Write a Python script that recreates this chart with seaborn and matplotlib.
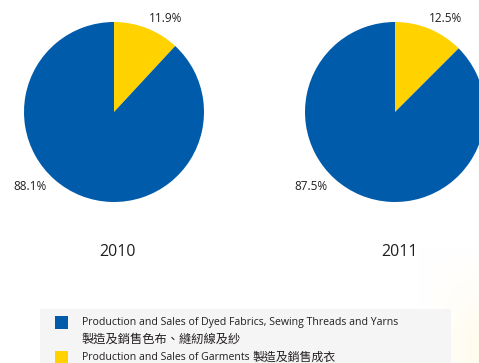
import numpy as np
import seaborn as sns
import matplotlib.pyplot as plt
from matplotlib.patches import Rectangle

# data
years = ['2010', '2011']
garments = [11.9, 12.5]
fabrics = [88.1, 87.5]
legend_en = ['Production and Sales of Dyed Fabrics, Sewing Threads and Yarns',
             'Production and Sales of Garments']
legend_zh = ['製造及銷售色布、縫紉線及紗', '製造及銷售成衣']

colors = ['#FFD200', '#005BAA']
text_color = '#231F20'

sns.set_theme(style='white')
plt.rcParams['font.family'] = ['Open Sans', 'Noto Sans CJK TC', 'DejaVu Sans']

W, H = 479, 363
fig = plt.figure(figsize=(W / 100, H / 100), dpi=100)
fig.patch.set_facecolor('white')

# faint cream glow in the lower right corner
bg = fig.add_axes([0, 0, 1, 1], zorder=-10)
gx, gy = np.meshgrid(np.linspace(0, W, 200), np.linspace(0, H, 160))
d = np.clip((gx - 420) / 60, 0, 1) * np.clip((gy - 250) / 90, 0, 1)
img = np.ones((160, 200, 3))
img[..., 2] -= 0.07 * d
img[..., 1] -= 0.015 * d
bg.imshow(img, extent=[0, W, H, 0], aspect='auto')
bg.axis('off')

centers = [(114, 112), (395, 112)]
radius = 90
small_pos = [(166, 19), (446, 19)]
big_pos = [(30, 187), (311, 187)]
year_pos = [(118, 252), (399, 252)]


def px_axes(cx, cy, r):
    return fig.add_axes([(cx - r) / W, (H - cy - r) / H, 2 * r / W, 2 * r / H])


for i, year in enumerate(years):
    cx, cy = centers[i]
    ax = px_axes(cx, cy, radius)
    ax.pie([garments[i], fabrics[i]], colors=colors, startangle=90, counterclock=False,
           radius=1, wedgeprops=dict(linewidth=0))
    ax.set_xlim(-1, 1)
    ax.set_ylim(-1, 1)
    ax.axis('off')

    sx, sy = small_pos[i]
    fig.text(sx / W, 1 - sy / H, f'{garments[i]:.1f}%', ha='center', va='center',
             fontsize=8.5, color=text_color)
    bx, by = big_pos[i]
    fig.text(bx / W, 1 - by / H, f'{fabrics[i]:.1f}%', ha='center', va='center',
             fontsize=8.5, color=text_color)
    yx, yy = year_pos[i]
    fig.text(yx / W, 1 - yy / H, year, ha='center', va='center',
             fontsize=11.5, color=text_color)

# legend box
fig.patches.append(Rectangle((40 / W, 0), (451 - 40) / W, 1 - 309 / H,
                             transform=fig.transFigure, facecolor='#F5F5F5',
                             edgecolor='none', zorder=0))
swatch_y = [316, 351]
line_y = [322, 339, 357]
renderer = fig.canvas.get_renderer()

# first entry: English line, Chinese on the next line
fig.patches.append(Rectangle((55 / W, 1 - (swatch_y[0] + 13) / H), 13 / W, 13 / H,
                             transform=fig.transFigure, facecolor=colors[1],
                             edgecolor='none', zorder=1))
fig.text(82 / W, 1 - line_y[0] / H, legend_en[0], ha='left', va='center',
         fontsize=7.55, color=text_color)
fig.text(82 / W, 1 - line_y[1] / H, legend_zh[0], ha='left', va='center',
         fontsize=8.8, color=text_color)

# second entry: English and Chinese on one line
fig.patches.append(Rectangle((55 / W, 1 - (swatch_y[1] + 13) / H), 13 / W, 13 / H,
                             transform=fig.transFigure, facecolor=colors[0],
                             edgecolor='none', zorder=1))
t = fig.text(82 / W, 1 - line_y[2] / H, legend_en[1], ha='left', va='center',
             fontsize=7.55, color=text_color)
x_end = t.get_window_extent(renderer).x1
fig.text((x_end + 3) / W, 1 - line_y[2] / H, legend_zh[1], ha='left', va='center',
         fontsize=8.6, color=text_color)

fig.savefig('out.png', dpi=100)
